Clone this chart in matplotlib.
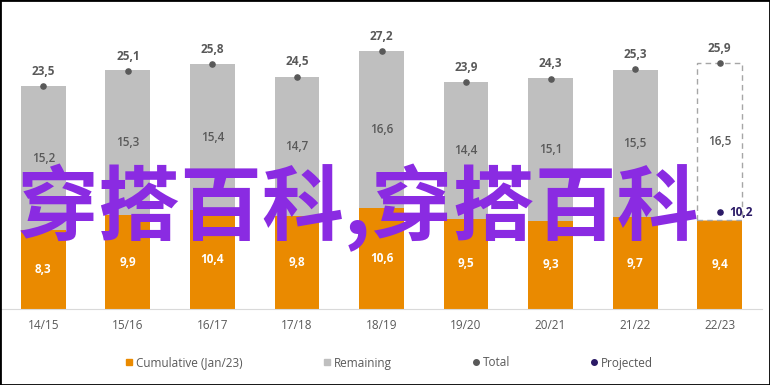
import matplotlib
matplotlib.use("Agg")
import matplotlib.pyplot as plt
from matplotlib.patches import Rectangle
from matplotlib.lines import Line2D

plt.rcParams['font.family'] = ['Open Sans', 'DejaVu Sans']

# data
seasons = ['14/15', '15/16', '16/17', '17/18', '18/19', '19/20', '20/21', '21/22', '22/23']
cumulative = [8.3, 9.9, 10.4, 9.8, 10.6, 9.5, 9.3, 9.7, 9.4]
remaining = [15.2, 15.3, 15.4, 14.7, 16.6, 14.4, 15.1, 15.5, 16.5]
total = [23.5, 25.1, 25.8, 24.5, 27.2, 23.9, 24.3, 25.3, 25.9]
projected = [None, None, None, None, None, None, None, None, 10.2]

orange = '#EA8A00'
grey = '#BFBFBF'
dark = '#595959'
navy = '#2B1A66'

def fmt(v):
    return f'{v:.1f}'.replace('.', ',')

fig = plt.figure(figsize=(7.7, 3.85), dpi=100)
ax = fig.add_axes([1 / 770, (385 - 309) / 385, 761 / 770, (309 - 15) / 385])

x = list(range(len(seasons)))
w = 0.53
ax.bar(x, cumulative, width=w, color=orange, zorder=2)
last = len(seasons) - 1
for i in x:
    if i == last:
        ax.bar(i, remaining[i], bottom=cumulative[i], width=w, facecolor='white',
               edgecolor='#A6A6A6', linestyle=(0, (4, 3)), linewidth=1, zorder=2)
    else:
        ax.bar(i, remaining[i], bottom=cumulative[i], width=w, color=grey, zorder=2)

ax.scatter(x, total, s=14, color=dark, zorder=3)
for i in x:
    ax.text(i, cumulative[i] / 2, fmt(cumulative[i]), ha='center', va='center',
            color='white', fontsize=8.5, fontweight='bold', zorder=4)
    ax.text(i, cumulative[i] + remaining[i] / 2, fmt(remaining[i]), ha='center',
            va='center', color=dark, fontsize=8.5, fontweight='semibold', zorder=4)
    ax.annotate(fmt(total[i]), (i, total[i]), xytext=(0, 6), textcoords='offset points',
                ha='center', va='bottom', color=dark, fontsize=8.5, fontweight='bold', zorder=4)
    if projected[i] is not None:
        ax.scatter(i, projected[i], s=14, color=navy, zorder=3)
        ax.annotate(fmt(projected[i]), (i, projected[i]), xytext=(7, 0),
                    textcoords='offset points', ha='left', va='center',
                    color=navy, fontsize=8.5, fontweight='bold', zorder=4)

ax.set_xlim(-0.5, 8.5)
ax.set_ylim(0, 31)
ax.set_xticks(x)
ax.set_xticklabels(seasons, color=dark, fontsize=8.5)
ax.tick_params(axis='x', length=0, pad=7)
ax.set_yticks([])
for s in ['top', 'right', 'left']:
    ax.spines[s].set_visible(False)
ax.spines['bottom'].set_color('#D9D9D9')

handles = [
    Line2D([], [], marker='s', linestyle='none', color=orange, markersize=5),
    Line2D([], [], marker='s', linestyle='none', color=grey, markersize=5),
    Line2D([], [], marker='o', linestyle='none', color=dark, markersize=4),
    Line2D([], [], marker='o', linestyle='none', color=navy, markersize=4),
]
leg = fig.legend(handles, ['Cumulative (Jan/23)', 'Remaining', 'Total', 'Projected'],
                 loc='center', bbox_to_anchor=(0.504, (385 - 363) / 385), ncol=4,
                 frameon=False, fontsize=8.5, handletextpad=0.1, columnspacing=6.6,
                 handlelength=1)
for t in leg.get_texts():
    t.set_color(dark)

# watermark
fig.text(0.465, (385 - 208) / 385, '穿搭百科,穿搭百科', ha='center', va='center',
         color='#8A2BE2', fontsize=59, fontweight='bold',
         family=['Noto Sans CJK SC', 'DejaVu Sans'], zorder=10)

fig.patches.append(Rectangle((0, 0), 1, 1, transform=fig.transFigure, fill=False,
                             edgecolor='black', linewidth=2))

fig.savefig('out.png', dpi=100)
